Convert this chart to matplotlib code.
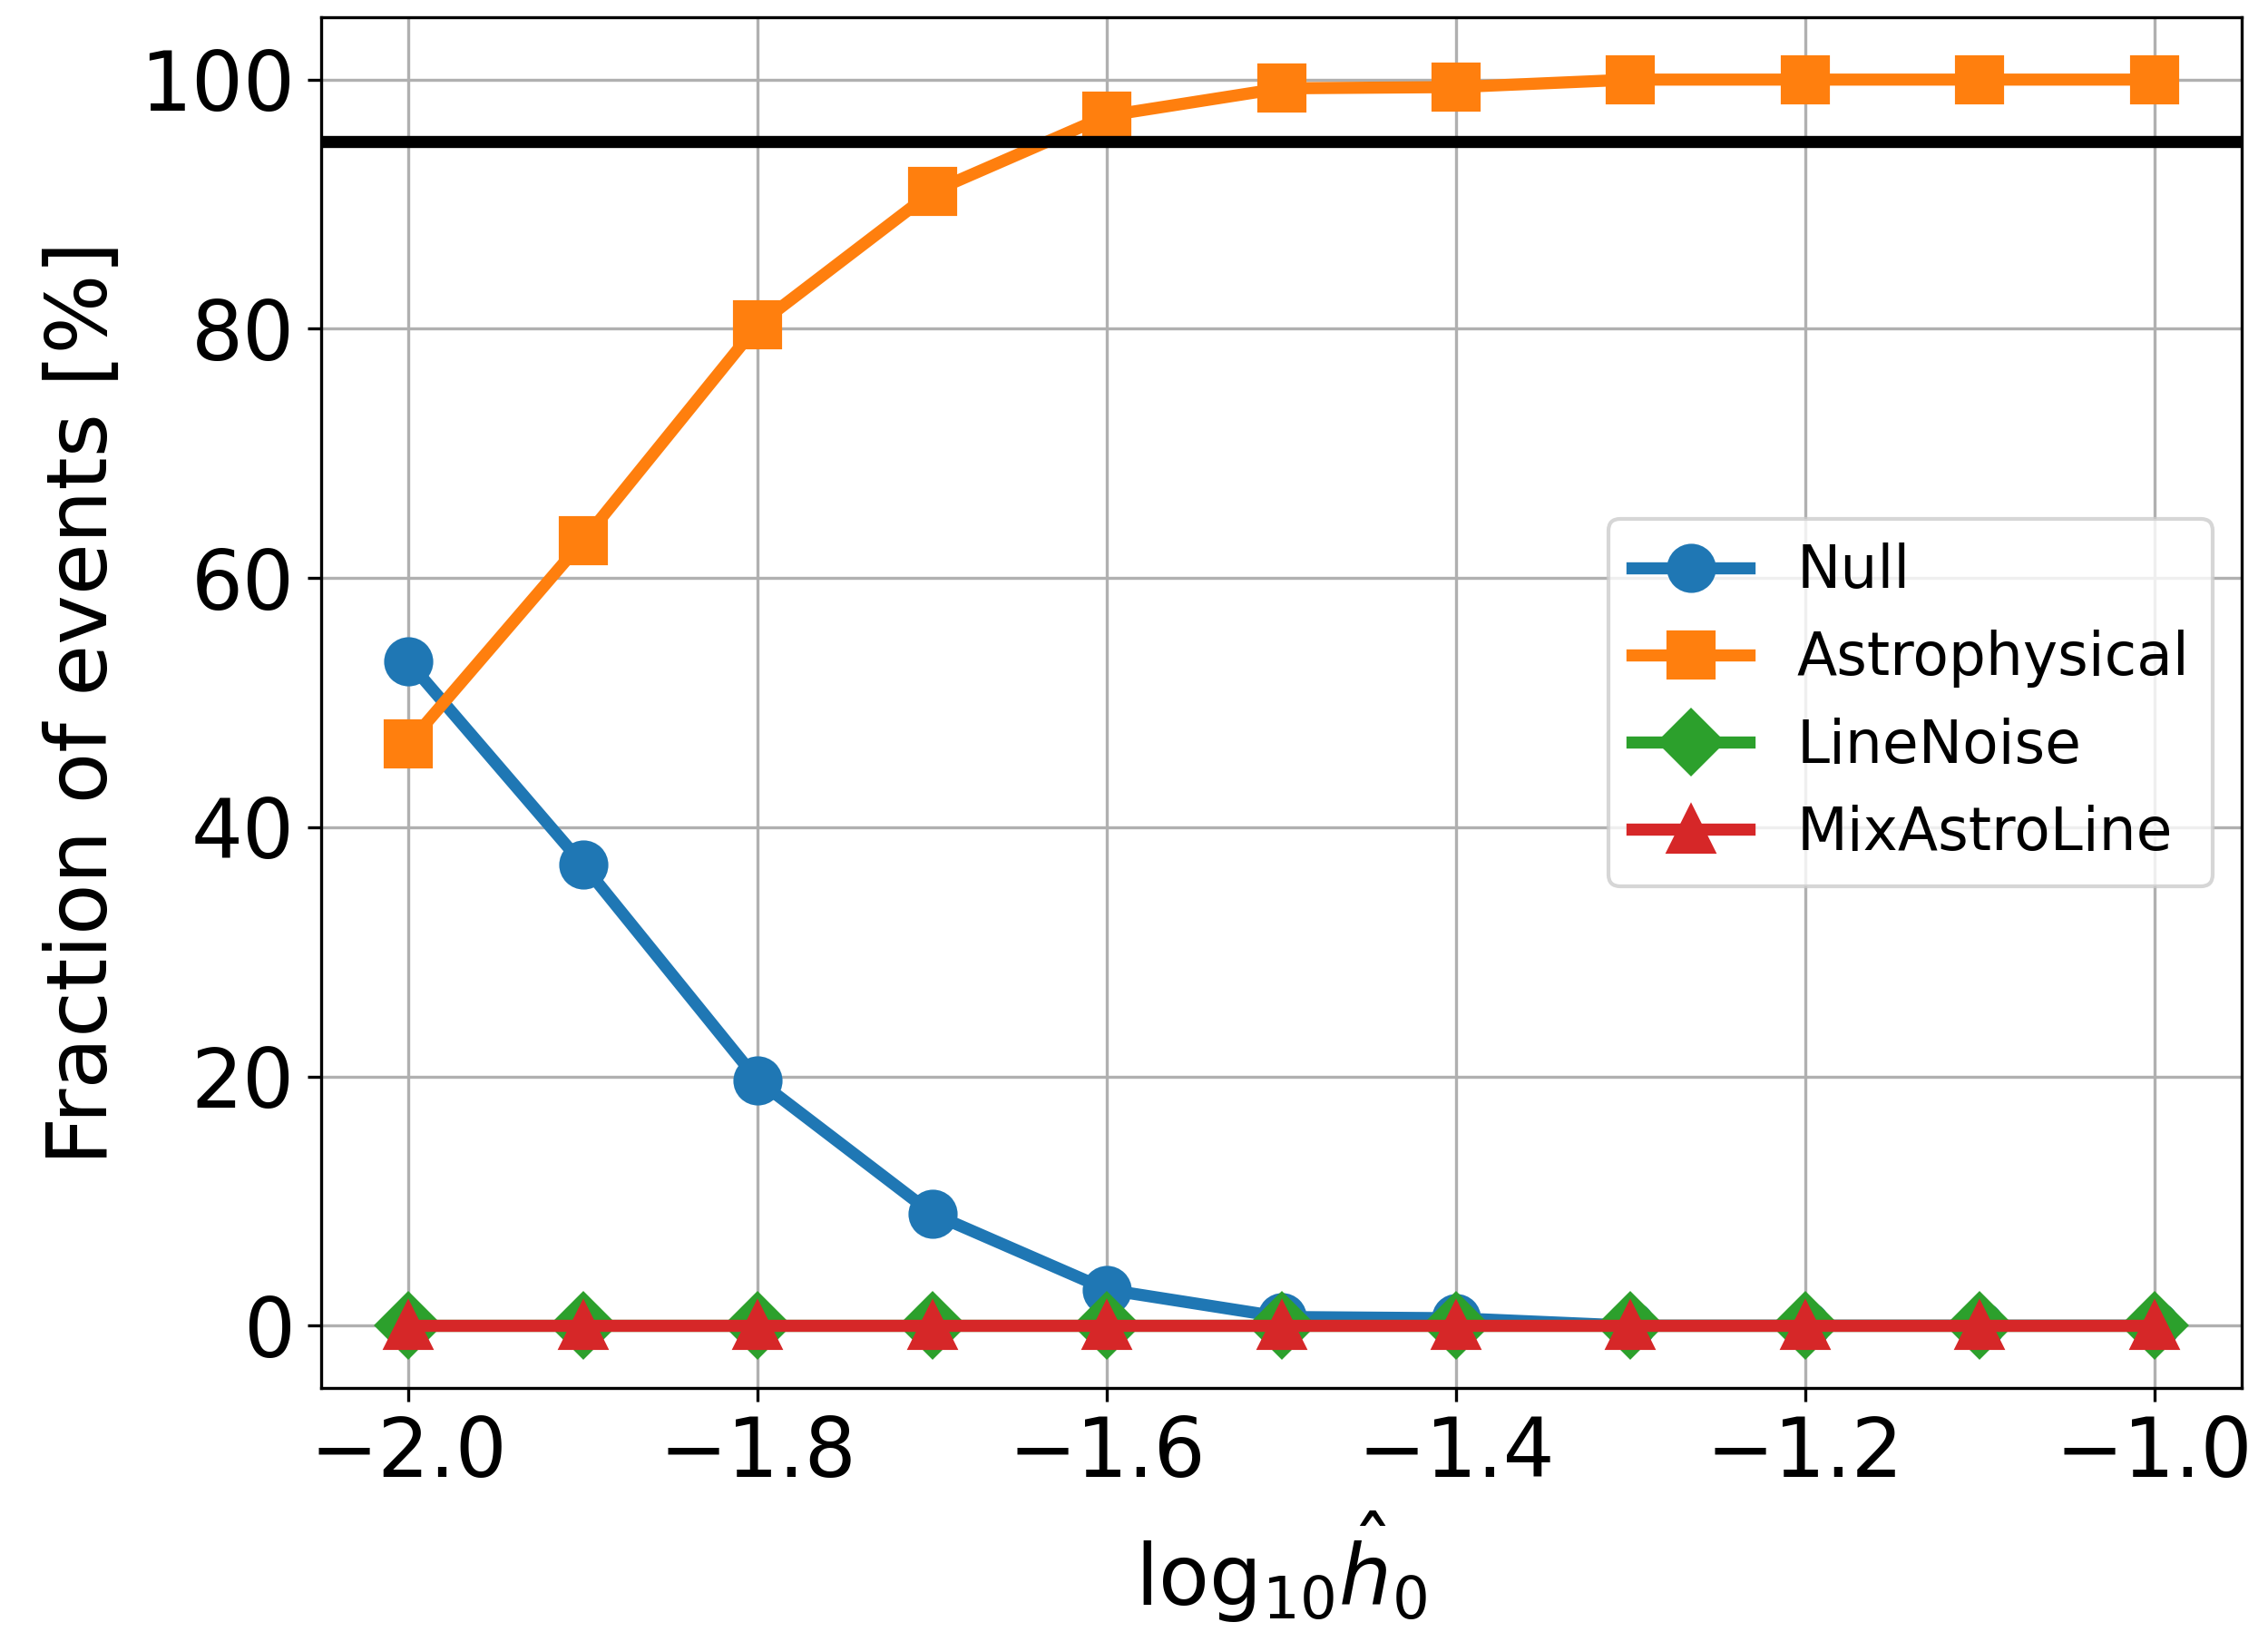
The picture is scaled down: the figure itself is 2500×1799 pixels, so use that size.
import numpy as np
import matplotlib
matplotlib.use('Agg')
import matplotlib.pyplot as plt

# log10 of h0 hat
log_h0 = [-2.0, -1.9, -1.8, -1.7, -1.6, -1.5, -1.4, -1.3, -1.2, -1.1, -1.0]

# fraction of events per class [%]
null_frac = [53.3, 37.0, 19.7, 9.0, 2.9, 0.7, 0.6, 0.0, 0.0, 0.0, 0.0]
astro_frac = [46.7, 63.0, 80.3, 91.0, 97.1, 99.3, 99.4, 100.0, 100.0, 100.0, 100.0]
line_frac = [0.0, 0.0, 0.0, 0.0, 0.0, 0.0, 0.0, 0.0, 0.0, 0.0, 0.0]
mix_frac = [0.0, 0.0, 0.0, 0.0, 0.0, 0.0, 0.0, 0.0, 0.0, 0.0, 0.0]

threshold = 95

fig = plt.figure(figsize=(2500 / 300, 1799 / 300), dpi=300)
ax = fig.add_subplot(111)
fig.subplots_adjust(left=0.1416, right=0.9884, top=0.9894, bottom=0.1495)

lw = 3.2
ms = 12
ax.plot(log_h0, null_frac, marker='o', lw=lw, ms=ms, label='Null')
ax.plot(log_h0, astro_frac, marker='s', lw=lw, ms=ms, label='Astrophysical')
ax.plot(log_h0, line_frac, marker='D', lw=lw, ms=ms, label='LineNoise')
ax.plot(log_h0, mix_frac, marker='^', lw=lw, ms=ms, label='MixAstroLine')
ax.axhline(threshold, color='k', lw=3.2)

ax.grid(True)
ax.set_xlabel(r'$\mathrm{log}_{10}\hat{h}_0$', fontsize=22)
ax.set_ylabel('Fraction of events [%]', fontsize=22.2)
ax.tick_params(labelsize=21.5)
ax.legend(loc='center right', fontsize=15.5)

fig.savefig('out.png', dpi=300)
